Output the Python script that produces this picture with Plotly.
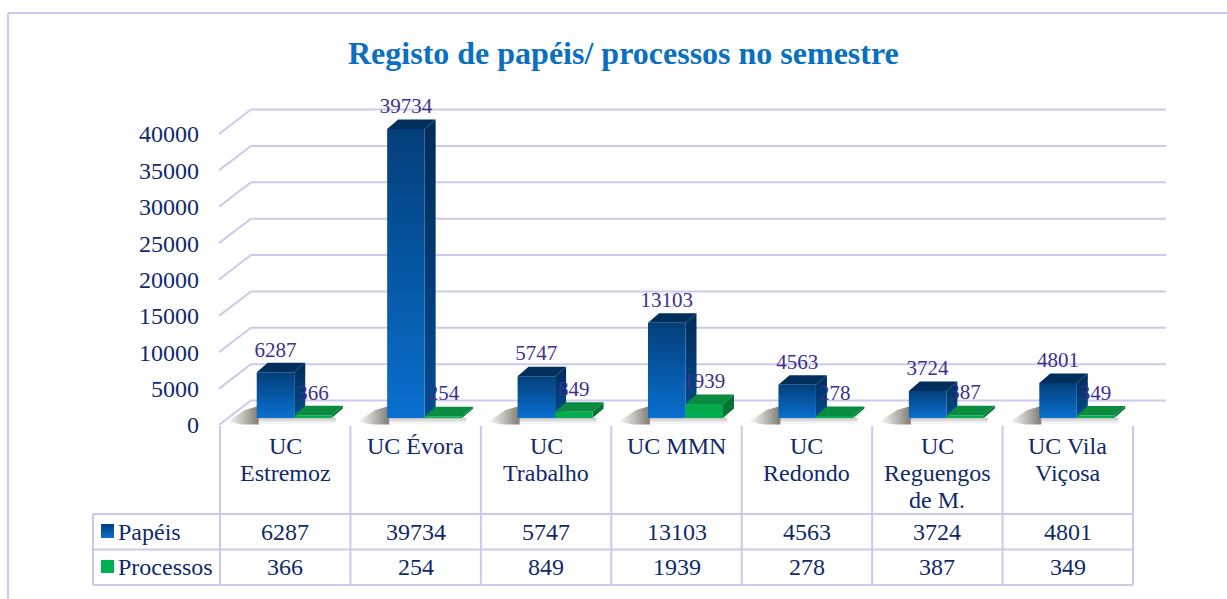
import plotly.graph_objects as go

categories = ["UC Estremoz", "UC Évora", "UC Trabalho", "UC MMN", "UC Redondo", "UC Reguengos de M.", "UC Vila Viçosa"]
category_lines = [["UC", "Estremoz"], ["UC Évora"], ["UC", "Trabalho"], ["UC MMN"], ["UC", "Redondo"], ["UC", "Reguengos", "de M."], ["UC Vila", "Viçosa"]]
papeis = [6287, 39734, 5747, 13103, 4563, 3724, 4801]
processos = [366, 254, 849, 1939, 278, 387, 349]
y_ticks = [0, 5000, 10000, 15000, 20000, 25000, 30000, 35000, 40000]
title_text = "Registo de papéis/ processos no semestre"

W, H = 1227, 599
CAT_PX = 130.43
X0_PX = 220.0
Y0_PX = 425.0
VAL_PX = 291.0 / 40000


def dx(px):
    return px / CAT_PX


def dy(px):
    return px / VAL_PX


def X(px):
    return (px - X0_PX) / CAT_PX - 0.5


def Y(px):
    return (Y0_PX - px) / VAL_PX


LINE = "#cdc9ee"
TEXT = "#0f2a6b"
LABEL = "#3f2f8f"
SERIF = "Liberation Serif"

BAR_W = dx(37.5)
SHIFT = dx(9)
BASE = dy(7)
DEPTH_X = dx(11)
DEPTH_Y = dy(9.5)

fig = go.Figure()


def poly(xs, ys, color=None, gradient=None):
    kw = dict(fillgradient=gradient) if gradient else dict(fillcolor=color)
    fig.add_trace(go.Scatter(x=xs + xs[:1], y=ys + ys[:1], mode="lines", fill="toself",
                             line=dict(width=0), hoverinfo="skip", showlegend=False, **kw))


def vgrad(top, bottom):
    return dict(type="vertical", colorscale=[[0, bottom], [1, top]])


# gridlines on the walls
gx, gy = [], []
for v in y_ticks:
    gx += [X(219), X(251), X(1166), None]
    gy += [v, v + dy(24.5), v + dy(24.5), None]
fig.add_trace(go.Scatter(x=gx, y=gy, mode="lines", line=dict(color=LINE, width=2),
                         hoverinfo="skip", showlegend=False))

# floor shadows
for i in range(len(categories)):
    left = i + SHIFT - BAR_W
    poly([left + dx(2), left - dx(12), left - dx(30), left - dx(14), left + dx(2)],
         [BASE + dy(12), BASE + dy(8), dy(3), dy(0.5), dy(0.5)],
         gradient=dict(type="horizontal", colorscale=[[0, "rgba(120,115,105,0)"], [0.5, "rgba(120,115,105,0.45)"],
                                                      [1, "rgba(120,115,105,0.95)"]]))
    poly([left, left + 2 * BAR_W + dx(4), left + 2 * BAR_W + dx(4), left], [BASE, BASE, dy(0.5), dy(0.5)],
         gradient=dict(type="vertical", colorscale=[[0, "rgba(190,190,190,0)"], [1, "rgba(130,130,130,0.5)"]]))

# 3-D bars: each face follows from the value
series = [
    (papeis, -1, "#033f7a", "#0a70cf", "#012c57", "#034c90", "#012f5c"),
    (processos, 0, "#07a84c", "#00b050", "#066f30", "#087a36", "#0b8b3f"),
]
for i in range(len(categories)):
    for vals, off, f_top, f_bot, s_top, s_bot, t_a in series:
        l = i + SHIFT + off * BAR_W
        r = l + BAR_W
        top = BASE + vals[i]
        poly([r, r + DEPTH_X, r + DEPTH_X, r], [BASE, BASE + DEPTH_Y, top + DEPTH_Y, top],
             gradient=vgrad(s_top, s_bot))
        poly([l, r, r + DEPTH_X, l + DEPTH_X], [top, top, top + DEPTH_Y, top + DEPTH_Y], color=t_a)
        poly([l, r, r, l], [BASE, BASE, top, top], gradient=vgrad(f_top, f_bot))

# data labels
for vals, off in ((papeis, -1), (processos, 0)):
    fig.add_trace(go.Scatter(
        x=[i + SHIFT + (off + 0.5) * BAR_W for i in range(len(vals))],
        y=[BASE + v + dy(21) for v in vals],
        mode="text", text=[str(v) for v in vals], textposition="middle center",
        textfont=dict(family=SERIF, size=21, color=LABEL), hoverinfo="skip", showlegend=False))

# data table
shapes = []


def seg(x0, y0, x1, y1):
    shapes.append(dict(type="line", xref="x", yref="y", x0=X(x0), y0=Y(y0), x1=X(x1), y1=Y(y1),
                       line=dict(color=LINE, width=2), layer="below"))


n = len(categories)
for i in range(n + 1):
    seg(X0_PX + i * CAT_PX, 426, X0_PX + i * CAT_PX, 585)
for py in (514, 549.5, 585):
    seg(93, py, X0_PX + n * CAT_PX, py)
seg(93, 514, 93, 585)
seg(8, 13, W, 13)
seg(8, 13, 8, H)

annotations = []


def note(x, y, text, size=24, color=TEXT, anchor="center", bold=False):
    annotations.append(dict(x=x, y=y, xref="x", yref="y", text=f"<b>{text}</b>" if bold else text,
                            showarrow=False, xanchor=anchor, yanchor="middle",
                            font=dict(family=SERIF, size=size, color=color)))


for i, lines in enumerate(category_lines):
    for j, t in enumerate(lines):
        note(i, Y(446 + 27 * j), t)
    note(i, Y(532), str(papeis[i]))
    note(i, Y(567), str(processos[i]))
note(X(116), Y(532), "Papéis", anchor="left")
note(X(116), Y(567), "Processos", anchor="left")
note(X(623), Y(53), title_text, size=32, color="#0a70c0", bold=True)

poly([X(101), X(114), X(114), X(101)], [Y(538), Y(538), Y(524), Y(524)], gradient=vgrad("#033f7a", "#0a70cf"))
poly([X(101), X(114), X(114), X(101)], [Y(573), Y(573), Y(560), Y(560)], color="#00b050")

fig.update_layout(
    width=W, height=H, margin=dict(l=0, r=0, t=0, b=0), autosize=False,
    paper_bgcolor="white", plot_bgcolor="white", showlegend=False,
    shapes=shapes, annotations=annotations,
    xaxis=dict(range=[X(0), X(W)], visible=False, domain=[0, 1], fixedrange=True),
    yaxis=dict(range=[Y(H), Y(0)], domain=[0, 1], anchor="free", position=X0_PX / W,
               tickmode="array", tickvals=y_ticks, ticktext=[str(v) for v in y_ticks],
               showgrid=False, zeroline=False, showline=False, ticks="", ticklabelstandoff=21,
               tickfont=dict(family=SERIF, size=24, color=TEXT), fixedrange=True),
)
fig.write_html("out.html", config=dict(displayModeBar=False),
               post_script="document.body.style.margin='0';document.body.style.overflow='hidden';")
